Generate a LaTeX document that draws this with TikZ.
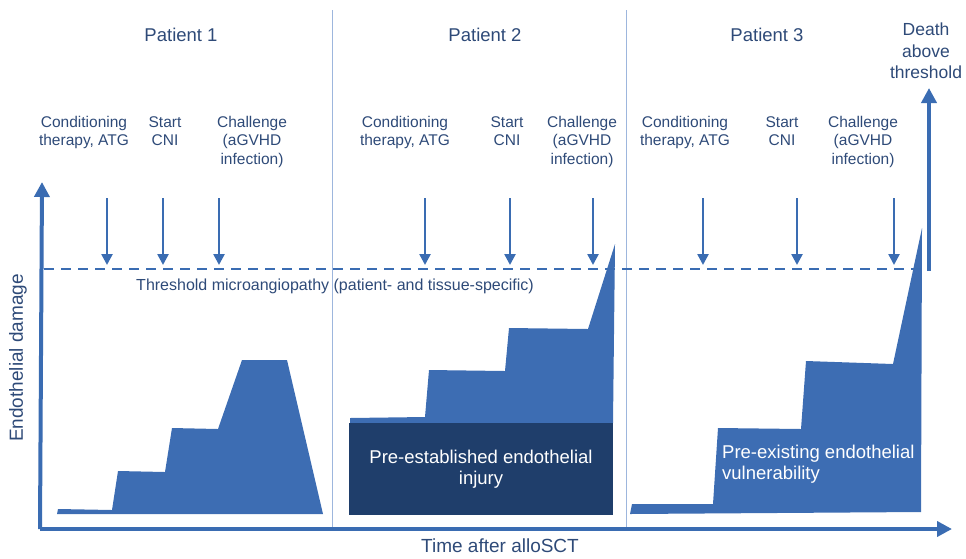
\documentclass[tikz,border=0pt]{standalone}
\usepackage{fontspec}
\setmainfont{Liberation Sans}
\usetikzlibrary{arrows.meta}
\definecolor{axblue}{HTML}{3A6CB2}
\definecolor{fillblue}{HTML}{3D6DB3}
\definecolor{txtblue}{HTML}{2E4A78}
\definecolor{darkbox}{HTML}{1F3E6B}
\definecolor{divblue}{HTML}{9DB6DD}
\tikzset{
  lbl/.style={text=txtblue, align=center, font=\fontsize{15.5}{18.5}\selectfont, inner sep=0pt},
  ptitle/.style={text=txtblue, font=\fontsize{18.5}{21}\selectfont, inner sep=0pt},
  axlbl/.style={text=txtblue, font=\fontsize{19}{21}\selectfont, inner sep=0pt},
  evarrow/.style={draw=axblue, line width=2.5pt, -{Triangle[length=11pt,width=11pt]}},
  bigarrow/.style={draw=axblue, line width=4pt, -{Triangle[length=15pt,width=15pt]}},
  divider/.style={draw=divblue, line width=1pt},
  curve/.style={fill=fillblue, draw=none},
  intxt/.style={text=white, font=\fontsize{18.5}{21.5}\selectfont, inner sep=0pt},
}
\begin{document}
\begin{tikzpicture}[x=1pt,y=-1pt]
\useasboundingbox (0,0) rectangle (966,558);
% dividers
\coordinate (d1t) at (332,10); \coordinate (d1b) at (332,527);
\coordinate (d2t) at (626,10); \coordinate (d2b) at (626,527);
\draw[divider] (d1t) -- (d1b);
\draw[divider] (d2t) -- (d2b);
% shapes
\fill[curve] (57,514) -- (58,509) -- (112,510) -- (118,471) -- (165,472) -- (172,428) -- (218,429) -- (242,360) -- (287,360) -- (323,514) -- cycle;
\fill[curve] (350,423) -- (350,418) -- (425,417) -- (429,370) -- (505,371) -- (509,328) -- (588,329) -- (615,244) -- (613,423) -- cycle;
\fill[darkbox] (349,423) rectangle (613,515);
\fill[curve] (630,514) -- (632,504) -- (713,504) -- (718,428) -- (801,429) -- (806,361) -- (893,364) -- (922,228) -- (921,512) -- cycle;
\node[intxt, align=center] (inj) at (481,469) {Pre-established endothelial\\injury};
\node[intxt, align=left, anchor=west] (vul) at (722,464) {Pre-existing endothelial\\vulnerability};
% axes
\coordinate (o) at (42,529);
\coordinate (ytip) at (42,182);
\coordinate (xtip) at (952,529);
\draw[bigarrow] (40,529) -- (ytip);
\draw[bigarrow] (40,529) -- (xtip);
\node[axlbl, rotate=90] (ylab) at (18,358) {Endothelial damage};
\node[axlbl] (xlab) at (500,546) {Time after alloSCT};
% threshold
\coordinate (th0) at (44,269);
\coordinate (th1) at (929,269);
\draw[draw=axblue, line width=1.8pt, dash pattern=on 10pt off 7pt] (th0) -- (th1);
\coordinate (dtip) at (929,88);
\draw[bigarrow] (929,271) -- (dtip);
\node[text=txtblue, font=\fontsize{16}{18}\selectfont, inner sep=0pt] (thl) at (335,286) {Threshold microangiopathy (patient- and tissue-specific)};
% titles
\node[ptitle] (p1) at (181,35) {Patient 1};
\node[ptitle] (p2) at (485,35) {Patient 2};
\node[ptitle] (p3) at (767,35) {Patient 3};
\node[ptitle, align=center, font=\fontsize{17.5}{21.5}\selectfont] (death) at (926,51) {Death\\above\\threshold};
% event labels
\node[lbl, anchor=north] (c1) at (84,116) {Conditioning\\therapy, ATG};
\node[lbl, anchor=north] (s1) at (165,116) {Start\\CNI};
\node[lbl, anchor=north] (h1) at (252,116) {Challenge\\(aGVHD\\infection)};
\node[lbl, anchor=north] (c2) at (405,116) {Conditioning\\therapy, ATG};
\node[lbl, anchor=north] (s2) at (507,116) {Start\\CNI};
\node[lbl, anchor=north] (h2) at (582,116) {Challenge\\(aGVHD\\infection)};
\node[lbl, anchor=north] (c3) at (685,116) {Conditioning\\therapy, ATG};
\node[lbl, anchor=north] (s3) at (782,116) {Start\\CNI};
\node[lbl, anchor=north] (h3) at (863,116) {Challenge\\(aGVHD\\infection)};
% event arrows
\foreach \x [count=\i] in {107,163,219,425,510,593,703,797,894}{
  \coordinate (at\i) at (\x,198);
  \coordinate (ab\i) at (\x,265);
  \draw[evarrow] (at\i) -- (ab\i);
}
\end{tikzpicture}
\end{document}
